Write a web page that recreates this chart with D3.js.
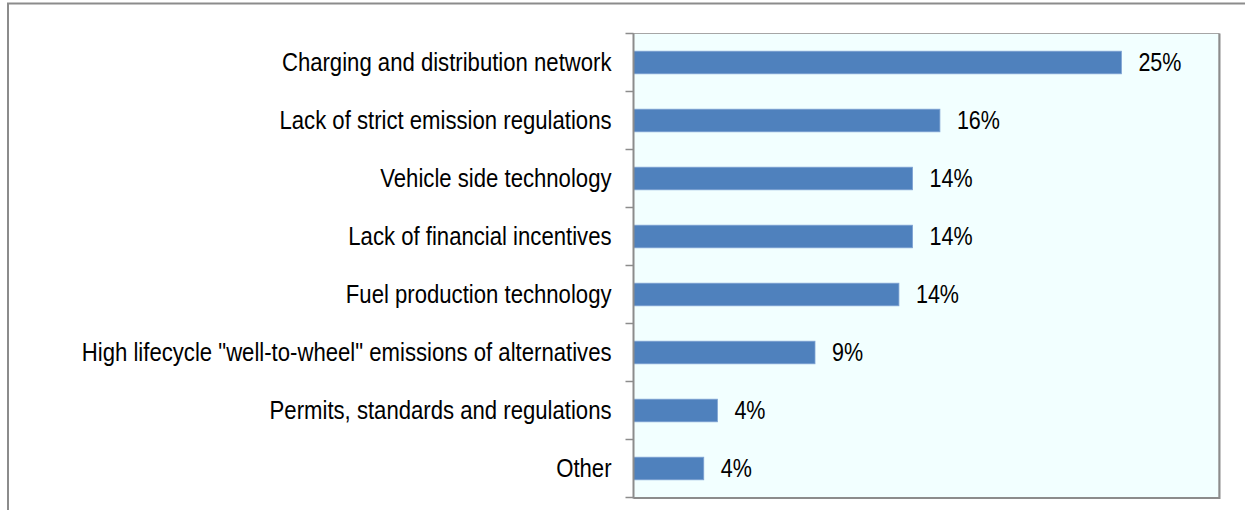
<!DOCTYPE html>
<html>
<head>
<meta charset="utf-8">
<script src="https://cdn.jsdelivr.net/npm/d3@7"></script>
<style>
  body { margin: 0; background: #fff; }
  svg { display: block; }
  text { font-family: "Liberation Sans Narrow", "Arial Narrow", "Liberation Sans", Arial, sans-serif; font-size: 25px; fill: #000; }
</style>
</head>
<body>
<script>
const categories = [
  "Charging and distribution network",
  "Lack of strict emission regulations",
  "Vehicle side technology",
  "Lack of financial incentives",
  "Fuel production technology",
  "High lifecycle \"well-to-wheel\" emissions of alternatives",
  "Permits, standards and regulations",
  "Other"
];
const values = [25.0, 15.7, 14.3, 14.3, 13.6, 9.3, 4.3, 3.6];
const valueLabels = ["25%", "16%", "14%", "14%", "14%", "9%", "4%", "4%"];

const width = 1245, height = 510;
const plot = { left: 633.5, top: 33.5, right: 1219, bottom: 497.5 };

const svg = d3.select(document.body).append("svg")
  .attr("width", width)
  .attr("height", height);

// outer chart frame
svg.append("rect")
  .attr("x", 8).attr("y", 3.5)
  .attr("width", 1400).attr("height", 700)
  .attr("fill", "none")
  .attr("stroke", "#8c8c8c")
  .attr("stroke-width", 2);

const x = d3.scaleLinear().domain([0, 30]).range([plot.left, plot.right]);
const y = d3.scaleBand().domain(categories).range([plot.top, plot.bottom]).paddingInner(0.61).paddingOuter(0.305);
const band = d3.scaleBand().domain(categories).range([plot.top, plot.bottom]);

// plot area
svg.append("rect")
  .attr("x", plot.left).attr("y", plot.top)
  .attr("width", plot.right - plot.left).attr("height", plot.bottom - plot.top)
  .attr("fill", "#f2ffff")
  .attr("stroke", "#a6a6a6")
  .attr("stroke-width", 1);

// shadow on right and bottom
svg.append("path")
  .attr("d", `M${plot.right + 0.5},${plot.top} V${plot.bottom + 0.5} H${plot.left}`)
  .attr("fill", "none")
  .attr("stroke", "#8c8c8c")
  .attr("stroke-width", 2);

// bars
svg.append("g").selectAll("rect")
  .data(categories)
  .join("rect")
  .attr("x", plot.left)
  .attr("y", d => y(d))
  .attr("width", (d, i) => x(values[i]) - plot.left)
  .attr("height", y.bandwidth())
  .attr("fill", "#4f81bd")
  .attr("stroke", "#7fa3d3")
  .attr("stroke-width", 0.8);

// value labels
const vals = svg.append("g").selectAll("text")
  .data(categories)
  .join("text")
  .attr("x", (d, i) => x(values[i]) + 17)
  .attr("y", d => band(d) + band.bandwidth() / 2)
  .attr("dy", "0.35em")
  .text((d, i) => valueLabels[i]);

// category axis
const axis = svg.append("g")
  .attr("transform", `translate(${plot.left},0)`)
  .call(d3.axisLeft(y).tickSize(0).tickPadding(22));
axis.select(".domain").remove();
axis.selectAll("text")
  .attr("font-size", null)
  .attr("font-family", null)
  .style("font-size", "25px");

// no narrow font installed, squeeze the glyphs instead
function squeeze(sel, k) {
  sel.each(function() {
    const len = this.getComputedTextLength();
    d3.select(this)
      .attr("textLength", len * k)
      .attr("lengthAdjust", "spacingAndGlyphs");
  });
}
squeeze(axis.selectAll("text"), 0.885);
squeeze(vals, 0.86);

const boundaries = d3.range(categories.length + 1).map(i => plot.top + i * band.step());
svg.append("g").selectAll("line")
  .data(boundaries)
  .join("line")
  .attr("x1", plot.left - 8).attr("x2", plot.left)
  .attr("y1", d => d).attr("y2", d => d)
  .attr("stroke", "#8c8c8c")
  .attr("stroke-width", 1.5);

svg.append("line")
  .attr("x1", plot.left).attr("x2", plot.left)
  .attr("y1", plot.top).attr("y2", plot.bottom + 1)
  .attr("stroke", "#8c8c8c")
  .attr("stroke-width", 2);
</script>
</body>
</html>
